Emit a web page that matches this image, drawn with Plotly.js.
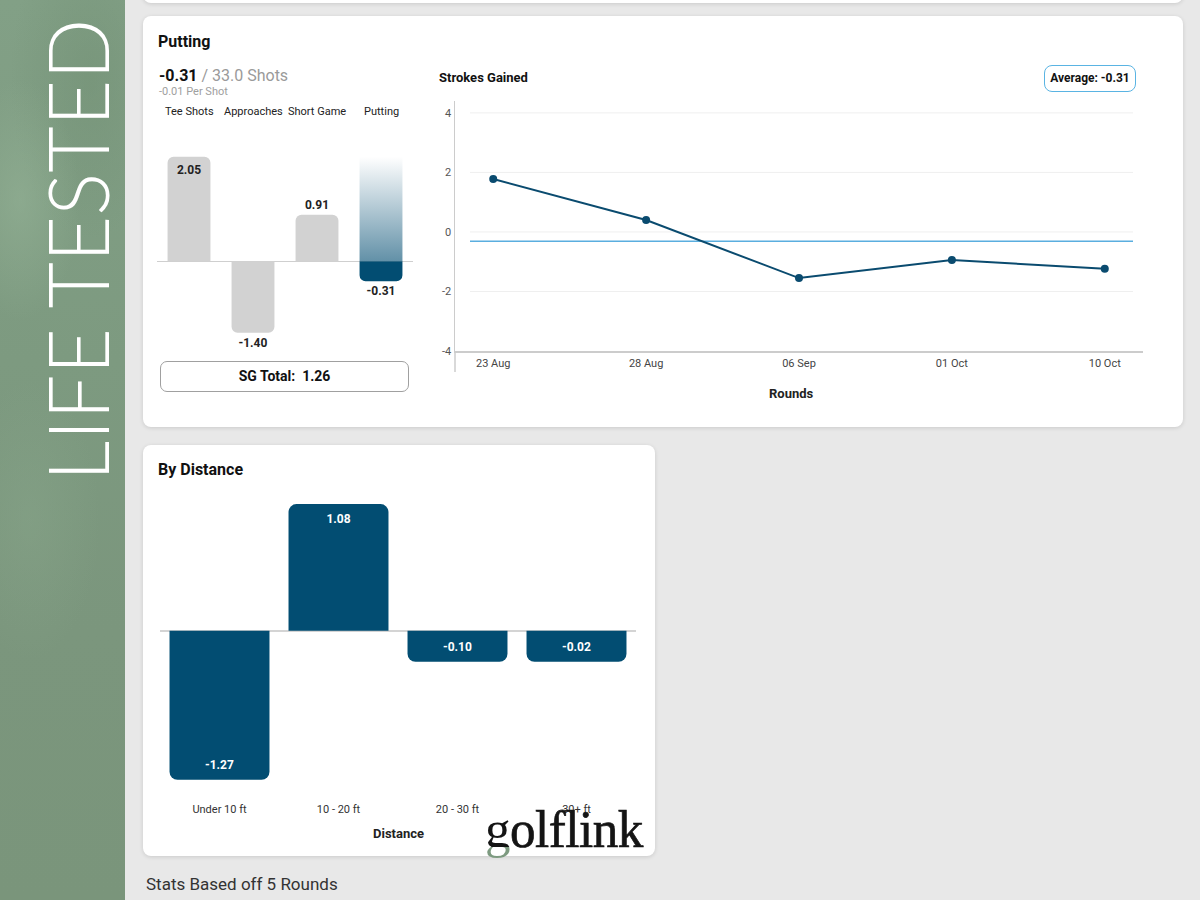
<!DOCTYPE html>
<html><head><meta charset="utf-8">
<script src="https://cdn.plot.ly/plotly-3.0.1.min.js"></script>
<style>
html,body{margin:0;padding:0;width:1200px;height:900px;overflow:hidden;background:#e8e8e8;font-family:Roboto,"Noto Sans",sans-serif;color:#111;}
.abs{position:absolute;}
.card{position:absolute;background:#fff;border-radius:8px;box-shadow:0 1px 4px rgba(0,0,0,0.13);}
.lbl{position:absolute;white-space:nowrap;line-height:20px;height:20px;}
#band{left:0;top:0;width:125px;height:900px;
 background:
  radial-gradient(ellipse 60px 120px at 20px 200px, rgba(150,180,152,0.55), rgba(150,180,152,0) 100%),
  radial-gradient(ellipse 80px 160px at 90px 80px, rgba(110,140,112,0.45), rgba(110,140,112,0) 100%),
  radial-gradient(ellipse 70px 140px at 30px 520px, rgba(140,170,142,0.35), rgba(140,170,142,0) 100%),
  linear-gradient(180deg,#82a086 0%,#7d9a80 40%,#7b967d 70%,#7a957b 100%);}
#life{position:absolute;white-space:nowrap;font-family:Lato,"Open Sans",sans-serif;font-weight:300;font-size:84px;line-height:84px;color:#fff;letter-spacing:0;}
#logo{position:absolute;white-space:nowrap;font-family:"Liberation Serif","DejaVu Serif",serif;font-weight:400;font-size:53px;line-height:52px;color:#141414;letter-spacing:-0.5px;-webkit-text-stroke:0.7px #141414;}
#logo .g{background:linear-gradient(180deg,#141414 0%,#141414 81%,#7d9a80 81%,#7d9a80 100%);-webkit-background-clip:text;background-clip:text;color:transparent;-webkit-text-stroke:0;}
</style></head><body>

<div class="abs" id="band"></div>
<div id="life">LIFE TESTED</div>

<div class="card" style="left:143px;top:-20px;width:1040px;height:23px;"></div>
<div class="card" style="left:143px;top:16px;width:1040px;height:411px;"></div>
<div class="card" style="left:143px;top:445px;width:512px;height:411px;"></div>

<div class="lbl" style="left:158px;top:32px;font-size:16px;font-weight:700;">Putting</div>
<div class="lbl" id="summary" style="left:159px;top:66px;font-size:16px;"></div>
<div class="lbl" id="perShot" style="left:159px;top:82px;font-size:11px;color:#a0a0a0;"></div>

<div class="lbl" style="left:439px;top:68px;font-size:13px;font-weight:700;">Strokes Gained</div>
<div class="abs" id="avgBadge" style="left:1044px;top:65px;width:92px;height:27px;box-sizing:border-box;border:1.5px solid #5ab4e3;border-radius:8px;font-size:12px;font-weight:700;line-height:24px;text-align:center;"></div>

<div class="abs" id="sgTotal" style="left:160px;top:361px;width:249px;height:31px;box-sizing:border-box;border:1.5px solid #a0a0a0;border-radius:7px;font-size:14px;font-weight:700;line-height:28px;text-align:center;"></div>

<div class="lbl" style="left:158px;top:460px;font-size:16px;font-weight:700;">By Distance</div>
<div class="lbl" id="basedOn" style="left:146px;top:873px;font-size:17px;color:#333;line-height:22px;height:22px;"></div>

<div class="abs" id="chartSG" style="left:140px;top:95px;width:290px;height:270px;"></div>
<div class="abs" id="chartLine" style="left:415px;top:95px;width:760px;height:330px;"></div>
<div class="abs" id="chartDist" style="left:145px;top:480px;width:510px;height:370px;"></div>

<div id="logo"><span class="g">g</span>olflink</div>

<script>
// ---------------- data ----------------
const sgCategories = ['Tee Shots', 'Approaches', 'Short Game', 'Putting'];
const sgValues = [2.05, -1.40, 0.91, -0.31];
const highlightCategory = 'Putting';
const puttingShots = 33.0;
const puttingPerShot = -0.01;
const sgTotal = 1.26;

const roundDates = ['23 Aug', '28 Aug', '06 Sep', '01 Oct', '10 Oct'];
const roundSG = [1.78, 0.40, -1.55, -0.94, -1.24];
const averageSG = -0.31;
const yTickVals = [-4, -2, 0, 2, 4];

const distanceCats = ['Under 10 ft', '10 - 20 ft', '20 - 30 ft', '30+ ft'];
const distanceSG = [-1.27, 1.08, -0.10, -0.02];
const roundsCount = 5;

// ---------------- text ----------------
const hi = sgCategories.indexOf(highlightCategory);
document.getElementById('summary').innerHTML =
  '<b>' + sgValues[hi].toFixed(2) + '</b> <span style="color:#9a9a9a">/ ' + puttingShots.toFixed(1) + ' Shots</span>';
document.getElementById('perShot').textContent = puttingPerShot.toFixed(2) + ' Per Shot';
document.getElementById('avgBadge').textContent = 'Average: ' + averageSG.toFixed(2);
document.getElementById('sgTotal').innerHTML = 'SG Total:&nbsp; ' + sgTotal.toFixed(2);
document.getElementById('basedOn').textContent = 'Stats Based off ' + roundsCount + ' Rounds';

// LIFE TESTED vertical text fitted to band
(function(){
  const el = document.getElementById('life');
  const w = el.offsetWidth, h = el.offsetHeight;
  const s = 462 / w;
  el.style.left = (77 - w / 2) + 'px';
  el.style.top = (250 - h / 2) + 'px';
  el.style.transform = 'rotate(-90deg) scaleX(' + s + ')';
})();
// logo fitted
(function(){
  const el = document.getElementById('logo');
  const w = el.offsetWidth;
  const s = 158 / w;
  el.style.left = '485px';
  el.style.top = '803px';
  el.style.transformOrigin = '0 0';
  el.style.transform = 'scaleX(' + s + ')';
})();

const BLUE = '#024d72';
const GRAY_BAR = '#d2d2d2';
const cfg = {staticPlot: true, displayModeBar: false};
const FONT = 'Roboto, "Noto Sans", sans-serif';

// ---------------- chart 1 : SG categories ----------------
(function(){
  const yRange = [-1.6, 2.2];
  const plotH = 194;
  const minUnits = 20 / (plotH / (yRange[1] - yRange[0]));
  const idx = sgCategories.map((_, i) => i);
  const disp = sgValues.map((v, i) => i === hi ? Math.sign(v) * Math.max(Math.abs(v), minUnits) : v);
  const bw = 0.67;
  const maxV = Math.max(...sgValues);
  const grad = {
    x: [hi - bw / 2, hi + bw / 2, hi + bw / 2, hi - bw / 2, hi - bw / 2],
    y: [0, 0, maxV, maxV, 0],
    type: 'scatter', mode: 'lines', fill: 'toself', line: {width: 0},
    fillgradient: {type: 'vertical', colorscale: [[0, 'rgba(2,77,114,0.62)'], [1, 'rgba(2,77,114,0)']]},
    hoverinfo: 'skip', showlegend: false
  };
  const bars = {
    x: idx, y: disp, type: 'bar', width: bw,
    marker: {color: idx.map(i => i === hi ? BLUE : GRAY_BAR), cornerradius: 6, line: {width: 0}},
    text: sgValues.map(v => '<b>' + v.toFixed(2) + '</b>'),
    textposition: sgValues.map(v => v > 1.5 ? 'inside' : 'outside'),
    insidetextanchor: 'end',
    textfont: {family: FONT, size: 12, color: '#222'},
    insidetextfont: {family: FONT, size: 12, color: '#222'},
    outsidetextfont: {family: FONT, size: 12, color: '#222'},
    cliponaxis: false, showlegend: false, hoverinfo: 'skip'
  };
  const layout = {
    width: 290, height: 270, margin: {l: 17, r: 17, t: 54, b: 22},
    paper_bgcolor: 'rgba(0,0,0,0)', plot_bgcolor: 'rgba(0,0,0,0)',
    font: {family: FONT},
    xaxis: {range: [-0.5, 3.5], showticklabels: false, showgrid: false, zeroline: false, showline: false},
    yaxis: {range: yRange, showticklabels: false, showgrid: false, zeroline: true, zerolinecolor: '#cfcfcf', zerolinewidth: 1.5, showline: false},
    annotations: sgCategories.map((c, i) => ({
      x: i, y: 1 + (149 - 111) / plotH, xref: 'x', yref: 'paper', text: c, showarrow: false,
      font: {family: FONT, size: 11, color: '#222'}, xanchor: 'center', yanchor: 'middle'
    }))
  };
  Plotly.newPlot('chartSG', [grad, bars], layout, cfg);
})();

// ---------------- chart 2 : Strokes gained by round ----------------
(function(){
  const plotH = 250;
  const gx0 = (470 - 455) / 688, gx1 = (1133 - 455) / 688;
  const shapes = yTickVals.filter(v => v !== -4).map(v => ({
    type: 'line', xref: 'paper', yref: 'y', x0: gx0, x1: gx1, y0: v, y1: v,
    line: {color: '#efefef', width: 1}, layer: 'below'
  }));
  shapes.push({type: 'line', xref: 'paper', yref: 'y', x0: gx0, x1: gx1, y0: averageSG, y1: averageSG,
    line: {color: '#5aaedf', width: 1.5}, layer: 'below'});
  shapes.push({type: 'line', xref: 'paper', yref: 'paper', x0: 0, x1: 0, y0: 0, y1: -(372 - 351) / plotH,
    line: {color: '#cccccc', width: 1.5}});
  const trace = {
    x: roundDates, y: roundSG, type: 'scatter', mode: 'lines+markers',
    line: {color: '#0a4b6f', width: 2}, marker: {color: '#0a4b6f', size: 8},
    cliponaxis: false, showlegend: false, hoverinfo: 'skip'
  };
  const layout = {
    width: 760, height: 330, margin: {l: 40, r: 32, t: 6, b: 74},
    paper_bgcolor: 'rgba(0,0,0,0)', plot_bgcolor: 'rgba(0,0,0,0)',
    font: {family: FONT},
    xaxis: {type: 'category', range: [-0.25, roundDates.length - 0.75], showgrid: false, zeroline: false,
      showline: true, linecolor: '#cccccc', linewidth: 1.5, ticks: '', ticklabelstandoff: 1,
      tickfont: {size: 11, color: '#444'}},
    yaxis: {range: [-4, 4.4], tickvals: yTickVals, ticktext: yTickVals.map(v => String(v)),
      showgrid: false, zeroline: false, showline: true, linecolor: '#cccccc', linewidth: 1.5, ticks: '',
      tickfont: {size: 11, color: '#555'}},
    shapes: shapes,
    annotations: [{x: (791 - 455) / 688, y: -(393 - 351) / plotH, xref: 'paper', yref: 'paper', text: '<b>Rounds</b>',
      showarrow: false, font: {family: FONT, size: 13, color: '#222'}, xanchor: 'center', yanchor: 'middle'}]
  };
  Plotly.newPlot('chartLine', [trace], layout, cfg);
})();

// ---------------- chart 3 : By distance ----------------
(function(){
  const yRange = [-1.4, 1.2];
  const plotH = 305;
  const minUnits = 31 / (plotH / (yRange[1] - yRange[0]));
  const disp = distanceSG.map(v => Math.sign(v) * Math.max(Math.abs(v), minUnits));
  const bars = {
    x: distanceCats, y: disp, type: 'bar', width: 0.84,
    marker: {color: BLUE, cornerradius: 8, line: {width: 0}},
    text: distanceSG.map(v => '<b>' + v.toFixed(2) + '</b>'),
    textposition: 'inside', insidetextanchor: 'end',
    insidetextfont: {family: FONT, size: 12, color: '#ffffff'},
    textfont: {family: FONT, size: 12, color: '#ffffff'},
    cliponaxis: false, showlegend: false, hoverinfo: 'skip'
  };
  const layout = {
    width: 510, height: 370, margin: {l: 15, r: 19, t: 10, b: 55},
    paper_bgcolor: 'rgba(0,0,0,0)', plot_bgcolor: 'rgba(0,0,0,0)',
    font: {family: FONT},
    xaxis: {type: 'category', showgrid: false, zeroline: false, showline: false, ticks: '',
      ticklabelstandoff: 6, tickfont: {size: 11, color: '#333'}},
    yaxis: {range: yRange, showticklabels: false, showgrid: false, zeroline: true, zerolinecolor: '#d4d4d4', zerolinewidth: 1.5},
    annotations: [{x: (398 - 160) / 476, y: -(833 - 795) / plotH, xref: 'paper', yref: 'paper', text: '<b>Distance</b>',
      showarrow: false, font: {family: FONT, size: 13, color: '#222'}, xanchor: 'center', yanchor: 'middle'}]
  };
  Plotly.newPlot('chartDist', [bars], layout, cfg);
})();
</script>
</body></html>
